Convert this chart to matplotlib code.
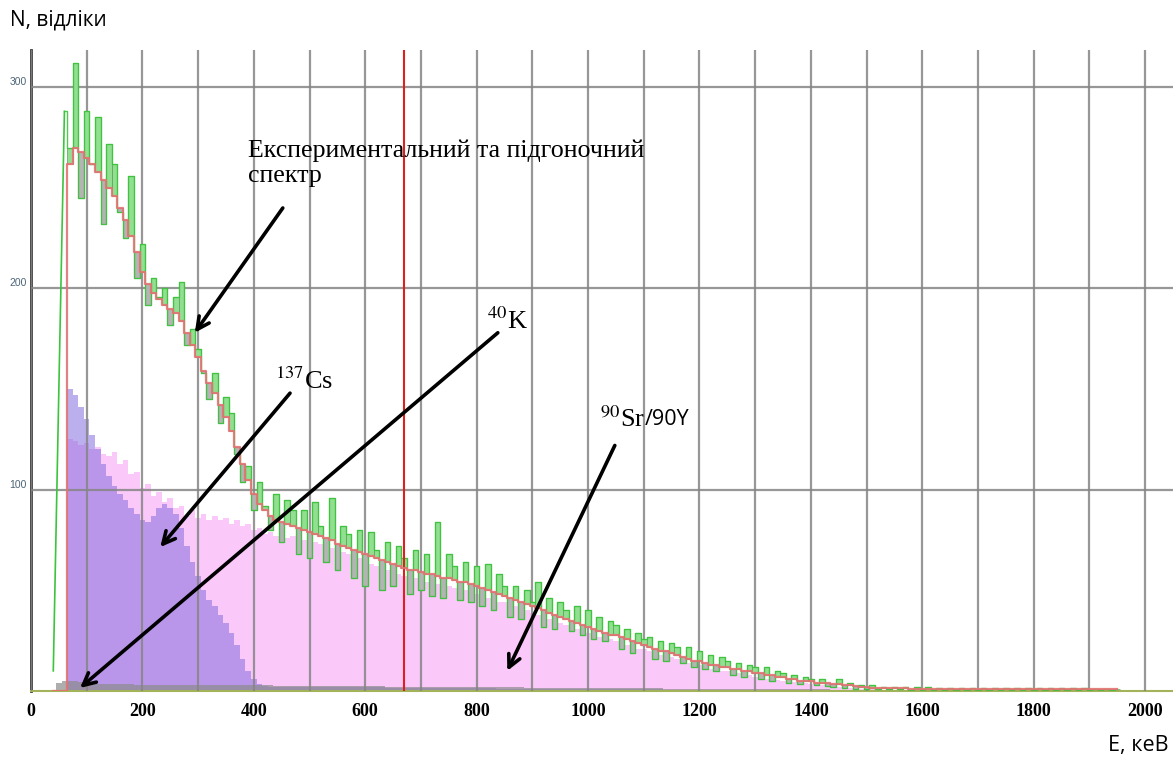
import numpy as np
import matplotlib
matplotlib.use('Agg')
import matplotlib.pyplot as plt

plt.rcParams['mathtext.fontset'] = 'stix'

# channel centres, keV (10 keV channels)
energy = np.arange(40, 1960, 10)

# experimental spectrum, counts per channel (starts at 40 keV)
measured = [
    10, 150, 288, 270, 312, 245, 288, 262, 285, 232,      # 40-130
    272, 262, 238, 225, 256, 205, 222, 192, 205, 196,     # 140-230
    200, 182, 196, 203, 172, 180, 170, 158, 145, 158,     # 240-330
    133, 146, 138, 118, 104, 112, 90, 104, 92, 80,        # 340-430
    98, 74, 95, 90, 68, 90, 66, 94, 82, 64,               # 440-530
    96, 60, 82, 78, 56, 80, 52, 79, 70, 50,               # 540-630
    74, 52, 72, 66, 48, 70, 50, 68, 47, 84,               # 640-730
    46, 68, 62, 45, 64, 44, 62, 42, 63, 40,               # 740-830
    58, 52, 37, 52, 36, 50, 44, 54, 32, 46,               # 840-930
    31, 44, 40, 30, 42, 28, 40, 26, 37, 25,               # 940-1030
    35, 33, 21, 31, 19, 29, 26, 27, 16, 25,               # 1040-1130
    15, 24, 22, 14, 22, 12, 20, 11, 18, 10,               # 1140-1230
    17, 15, 8, 14, 7, 13, 12, 6, 12, 5,                   # 1240-1330
    10, 9, 4, 8, 3.5, 7, 6, 3, 6, 2.5,                    # 1340-1430
    2, 6, 1.5, 4, 1, 3, 1, 3, 0.8, 2,                     # 1440-1530
    0.8, 2, 0.8, 2, 0.7, 1.8, 0.7, 1.8, 0.7, 1.6,         # 1540-1630
    0.6, 1.6, 0.6, 1.6, 0.6, 1.5, 0.5, 1.5, 0.5, 1.5,     # 1640-1730
    0.5, 1.5, 0.5, 1.4, 0.5, 1.4, 0.5, 1.4, 0.5, 1.3,     # 1740-1830
    0.5, 1.3, 0.5, 1.3, 0.5, 1.3, 0.5, 1.2, 0.5, 1.2,     # 1840-1930
    0.5, 1.2,                                             # 1940-1950
]

# fitted spectrum
fitted = [
    0, 0, 0, 262, 270, 268, 265, 262, 258, 254,
    250, 246, 240, 234, 226, 218, 208, 202, 198, 195,
    192, 190, 188, 184, 178, 172, 166, 159, 153, 148,
    142, 136, 129, 121, 113, 105, 98, 93, 90, 87,
    85, 84, 83, 82, 81, 80, 79, 78, 77, 76,
    75, 73, 72, 71, 70, 69, 68, 67, 66, 65,
    64, 63, 62, 61, 60, 60, 59, 58, 58, 57,
    56, 56, 55, 54, 54, 53, 52, 51, 50, 49,
    48, 47, 46, 45, 44, 43, 42, 41, 40, 39,
    38, 37, 36, 35, 34, 33, 32, 31, 30, 29,
    28, 28, 27, 26, 25, 24, 23, 22, 21, 20,
    20, 19, 18, 17, 16, 15, 15, 14, 13, 13,
    12, 12, 11, 11, 10, 10, 9, 9, 8, 8,
    7, 7, 6, 6, 5, 5, 5, 4, 4, 4,
    3.5, 3.5, 3, 3, 2.5, 2, 2, 1.5, 1.5, 1.5,
    1.5, 1.5, 1.5, 1.5, 1.2, 1.2, 1.2, 1.2, 1.2, 1.2,
    1, 1, 1, 1, 1, 1, 1, 1, 1, 1,
    1, 1, 1, 1, 1, 1, 1, 1, 1, 1,
    1, 1, 1, 1, 1, 1, 1, 1, 1, 1,
    1, 1,
]

# components (each list starts at 40 keV)
sr90_y90 = [
    0, 0, 0, 125, 124, 122, 123, 120, 121, 118,
    117, 119, 113, 115, 108, 109, 101, 103, 97, 99,
    94, 96, 91, 92, 87, 90, 86, 88, 85, 87,
    85, 86, 83, 85, 82, 83, 80, 81, 78, 79,
    77, 78, 76, 77, 75, 75, 74, 74, 73, 72,
    71, 70, 69, 68, 67, 66, 64, 63, 62, 61,
    60, 59, 58, 57, 56, 56, 55, 54, 54, 53,
    52, 52, 51, 50, 50, 49, 48, 47, 46, 45,
    44, 44, 43, 42, 41, 40, 39, 38, 37, 36,
    35, 34, 33, 32, 31, 30, 29, 28, 27, 27,
    26, 25, 24, 23, 22, 21, 21, 20, 19, 18,
    17, 17, 16, 15, 14, 13, 13, 12, 11, 11,
    10, 10, 9, 9, 8, 8, 7, 7, 6, 6,
    5.5, 5, 5, 4.5, 4, 4, 3.5, 3, 3, 2.5,
    2.5, 2, 2, 1.5, 1.5, 1, 1, 0.8, 0.6, 0.5,
    0.4, 0.3, 0.3, 0.2,
]

cs137 = [
    0, 0, 0, 150, 147, 141, 135, 127, 120, 113,
    107, 102, 98, 95, 91, 88, 85, 84, 87, 91,
    93, 91, 88, 81, 72, 64, 57, 50, 45, 42,
    38, 34, 29, 23, 16, 10, 6, 3.5, 2.5, 2,
    2, 2, 2, 2, 2, 2, 2, 2, 2, 2,
    2, 2, 2, 2, 1.8, 1.8, 1.8, 1.8, 1.8, 1.8,
    1.6, 1.6, 1.6, 1.6, 1.6, 1.5, 1.5, 1.5, 1.5, 1.5,
    1.4, 1.4, 1.4, 1.4, 1.4, 1.3, 1.3, 1.3, 1.3, 1.3,
    1.2, 1.2, 1.2, 1.2, 1.2, 1.1, 1.1, 1.1, 1.1, 1.1,
    1, 1, 1, 1, 1, 1, 1, 1, 1, 1,
    0.9, 0.9, 0.9, 0.9, 0.9, 0.8, 0.8, 0.8, 0.8, 0.8,
    0.7, 0.7, 0.7, 0.7, 0.7, 0.7, 0.7, 0.7, 0.7, 0.7,
    0.6, 0.6, 0.6, 0.6, 0.6, 0.6, 0.6, 0.6, 0.6, 0.6,
    0.5, 0.5, 0.5, 0.5, 0.5, 0.5, 0.5, 0.5, 0.5, 0.5,
    0.4, 0.4, 0.4, 0.3, 0.3, 0.3,
]

k40 = [
    0, 4, 5, 5, 5, 4.5, 4, 4, 3.5, 3.5,
    3.5, 3.5, 3.5, 3.5, 3.5, 3.2, 3.2, 3.2, 3.2, 3.2,
    3.2, 3, 3, 3, 3, 3, 3, 3, 3, 3,
    2.8, 2.8, 2.8, 2.8, 2.8, 2.8, 2.8, 2.8, 2.8, 2.8,
    2.6, 2.6, 2.6, 2.6, 2.6, 2.5, 2.5, 2.5, 2.5, 2.5,
    2.4, 2.4, 2.4, 2.4, 2.4, 2.3, 2.3, 2.3, 2.3, 2.3,
    2.2, 2.2, 2.2, 2.2, 2.2, 2.1, 2.1, 2.1, 2.1, 2.1,
    2, 2, 2, 2, 2, 1.9, 1.9, 1.9, 1.9, 1.9,
    1.8, 1.8, 1.8, 1.8, 1.8, 1.7, 1.7, 1.7, 1.7, 1.7,
    1.6, 1.6, 1.6, 1.6, 1.6, 1.5, 1.5, 1.5, 1.5, 1.5,
    1.4, 1.4, 1.4, 1.4, 1.4, 1.3, 1.3, 1.3, 1.3, 1.3,
    1.2, 1.2, 1.2, 1.2, 1.2, 1.1, 1.1, 1.1, 1.1, 1.1,
    1, 1, 1, 1, 1, 1, 1, 1, 1, 1,
    0.9, 0.9, 0.9, 0.9, 0.9, 0.8, 0.8, 0.8, 0.8, 0.8,
    0.7, 0.7, 0.6, 0.5,
]

cs_line = 670  # keV, red marker
xticks = list(range(0, 2001, 200))
yticks = [100, 200, 300]

fig = plt.figure(figsize=(11.73, 7.6), dpi=100)
ax = fig.add_axes([31 / 1173, 69 / 760, 1142 / 1173, 641 / 760])

m = np.array(measured, dtype=float)
f = np.array(fitted, dtype=float)
assert len(m) == len(energy) == len(f)

# components
e_sr = energy[:len(sr90_y90)]
e_cs = energy[:len(cs137)]
e_k = energy[:len(k40)]
ax.fill_between(e_sr, 0, sr90_y90, step='mid', color='#fbc8fa', lw=0, zorder=1)
ax.fill_between(e_cs, 0, cs137, step='mid', color=(0.52, 0.43, 0.88), alpha=0.55, lw=0, zorder=1.2)
ax.fill_between(e_k, 0, k40, step='mid', color='#8c8c8c', alpha=0.7, lw=0, zorder=1.4)

# measured minus fit as bars (green above, grey below)
on = f > 0
up = on & (m >= f)
dn = on & (m < f)
ax.bar(energy[up], (m - f)[up], bottom=f[up], width=10, color='#92df92',
       edgecolor='#55a055', linewidth=0.5, zorder=4)
ax.bar(energy[dn], (m - f)[dn], bottom=f[dn], width=10, color='#b4b4b4',
       edgecolor='#808080', linewidth=0.5, zorder=4)
# steep rise at the low-energy threshold, then the channel steps
ax.plot(energy[:3], m[:3], color='#3cc43c', lw=1.2, zorder=5)
ax.step(energy[2:], m[2:], where='mid', color='#3cc43c', lw=1.0, alpha=0.9, zorder=5)
ax.step(energy, f, where='mid', color='#e47272', lw=1.6, alpha=0.9, zorder=6)

ax.axvline(cs_line, color='#e01e1e', lw=1.5, zorder=5.5)

# axes styling
ax.set_xlim(0, 2050)
ax.set_ylim(0, 318.5)
ax.set_xticks(xticks)
ax.set_xticks(range(100, 2001, 100), minor=True)
ax.set_xticklabels([str(v) for v in xticks], family='Liberation Serif',
                   fontweight='bold', fontsize=13)
ax.set_yticks(yticks)
ax.set_yticklabels([str(v) for v in yticks], family='Liberation Sans',
                   fontsize=7.5, color='#4d6578')
for lab in ax.get_yticklabels():
    lab.set_verticalalignment('bottom')
ax.tick_params(axis='x', which='both', length=0, pad=9)
ax.tick_params(axis='y', length=0, pad=3)
ax.set_axisbelow(False)
ax.grid(which='both', axis='x', color='#858585', lw=1.6, alpha=0.85)
ax.grid(axis='y', color='#858585', lw=1.6, alpha=0.85)
for s in ['top', 'right']:
    ax.spines[s].set_visible(False)
ax.spines['left'].set_color('#3a3a3a')
ax.spines['left'].set_linewidth(2)
ax.spines['bottom'].set_color('#a3b35a')
ax.spines['bottom'].set_linewidth(1.5)

# annotations
serif = 'Liberation Serif'
ax.text(390, 274, 'Експериментальний та підгоночний\nспектр', family=serif,
        fontsize=18.7, va='top', ha='left', linespacing=1.2, zorder=8)
ax.text(438, 150, r'$^{137}$Cs', family=serif, fontsize=19, va='baseline', zorder=8)
ax.text(819, 180, r'$^{40}$K', family=serif, fontsize=19, va='baseline', zorder=8)
sr = ax.text(1021, 131, r'$^{90}$Sr', family=serif, fontsize=19, va='baseline', zorder=8)
ax.annotate('/90Y', xy=(1, 0.1), xycoords=sr, family='Open Sans', fontsize=15.5,
            va='bottom', ha='left', zorder=8)

arrows = [((452, 240), (294, 178)),
          ((465, 148), (232, 71.5)),
          ((838, 178), (88, 1.5)),
          ((1048, 122), (855, 10))]
for tail, head in arrows:
    ax.annotate('', xy=head, xytext=tail,
                arrowprops=dict(arrowstyle='->', lw=2.6, color='black',
                                mutation_scale=22, shrinkA=0, shrinkB=0),
                zorder=8)

fig.text(10 / 1173, 1 - 20 / 760, 'N, відліки', family='Open Sans', fontsize=15,
         va='center', ha='left')
fig.text(1168 / 1173, 1 - 745 / 760, 'E, кеВ', family='Open Sans', fontsize=15.5,
         va='center', ha='right')

fig.savefig('out.png', dpi=100)
